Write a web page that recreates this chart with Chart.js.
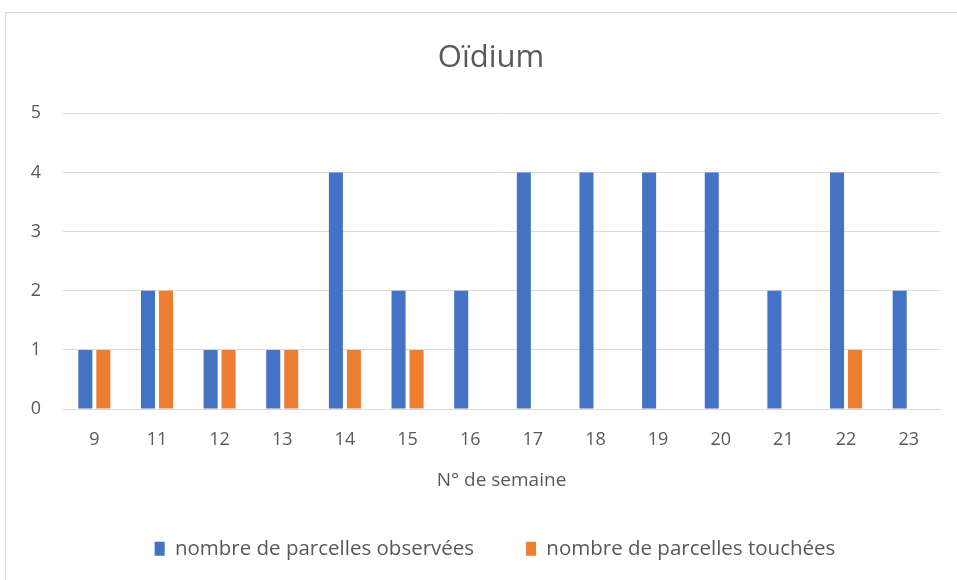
<!DOCTYPE html>
<html>
<head>
<meta charset="utf-8">
<script src="https://cdn.jsdelivr.net/npm/chart.js@4"></script>
<style>
    body { margin: 0; background: #fff; overflow: hidden; }
    #box {
        position: absolute; left: 5px; top: 12px;
        width: 970px; height: 580px;
        border: 1px solid #d9d9d9; box-sizing: border-box;
    }
</style>
</head>
<body>
<div id="box"><canvas id="canvas"></canvas></div>
<script>
    // weeks and counts
    const weeks = ['9', '11', '12', '13', '14', '15', '16', '17', '18', '19', '20', '21', '22', '23'];
    const observees = [1, 2, 1, 1, 4, 2, 2, 4, 4, 4, 4, 2, 4, 2];
    const touchees = [1, 2, 1, 1, 1, 1, 0, 0, 0, 0, 0, 0, 1, 0];
    const yTicks = [0, 1, 2, 3, 4, 5];

    const font = "'Open Sans', 'Liberation Sans', sans-serif";
    const grey = '#595959';

    // nudge title and legend a bit to the right, like the original
    const shiftBlocks = {
        id: 'shiftBlocks',
        afterLayout(chart) {
            chart.titleBlock.left += 8;
            chart.titleBlock.right += 8;
            chart.legend.left += 12;
            chart.legend.right += 12;
        }
    };

    const ctx = document.getElementById('canvas').getContext('2d');
    new Chart(ctx, {
        type: 'bar',
        data: {
            labels: weeks,
            datasets: [{
                label: 'nombre de parcelles observées',
                data: observees,
                backgroundColor: '#4472c4',
                categoryPercentage: 0.574,
                barPercentage: 0.78
            }, {
                label: 'nombre de parcelles touchées',
                data: touchees,
                backgroundColor: '#ed7d31',
                categoryPercentage: 0.574,
                barPercentage: 0.78
            }]
        },
        plugins: [shiftBlocks],
        options: {
            responsive: true,
            maintainAspectRatio: false,
            animation: false,
            layout: { padding: { left: 20, right: 34, top: 0, bottom: 22 } },
            plugins: {
                title: {
                    display: true,
                    text: 'Oïdium',
                    color: grey,
                    font: { family: font, size: 31, weight: 'normal' },
                    padding: { top: 27, bottom: 36 }
                },
                legend: {
                    position: 'bottom',
                    labels: {
                        color: grey,
                        font: { family: font, size: 20.5 },
                        boxWidth: 10,
                        boxHeight: 14,
                        padding: 52
                    }
                },
                tooltip: { enabled: false }
            },
            scales: {
                x: {
                    grid: { display: false, drawTicks: false },
                    border: { color: '#d9d9d9', width: 1 },
                    ticks: { color: grey, font: { family: font, size: 18 }, padding: 20 },
                    title: {
                        display: true,
                        text: 'N° de semaine',
                        color: grey,
                        font: { family: font, size: 19 },
                        padding: { top: -2, bottom: -5 }
                    }
                },
                y: {
                    min: 0,
                    max: 5,
                    afterBuildTicks: (axis) => { axis.ticks = yTicks.map(v => ({ value: v })); },
                    afterFit: (axis) => { axis.width = 37; },
                    grid: { color: '#d9d9d9', drawTicks: false },
                    border: { display: false },
                    ticks: { color: grey, font: { family: font, size: 18 }, padding: 22 }
                }
            }
        }
    });
</script>
</body>
</html>
